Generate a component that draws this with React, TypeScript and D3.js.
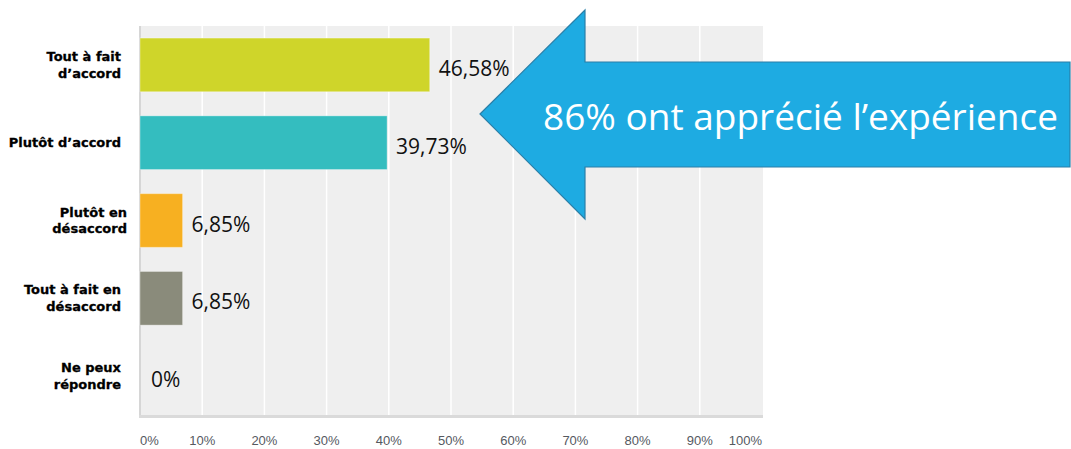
import React from "react";
import * as d3 from "d3";

const categories = [
  "Tout à fait d’accord",
  "Plutôt d’accord",
  "Plutôt en désaccord",
  "Tout à fait en désaccord",
  "Ne peux répondre",
];
const categoryLines = [
  ["Tout à fait", "d’accord"],
  ["Plutôt d’accord"],
  ["Plutôt en", "désaccord"],
  ["Tout à fait en", "désaccord"],
  ["Ne peux", "répondre"],
];
const values = [46.58, 39.73, 6.85, 6.85, 0];
const barColors = ["#cfd52a", "#34bdbf", "#f7b021", "#8a8b7b", "#999999"];
const ticks = [0, 10, 20, 30, 40, 50, 60, 70, 80, 90, 100];
const calloutText = "86% ont apprécié l’expérience";

const W = 1071;
const H = 449;
const plot = { left: 140, right: 762, top: 26, bottom: 415 };

export default function App() {
  const x = d3.scaleLinear().domain([0, 100]).range([plot.left, plot.right]);
  const y = d3
    .scaleBand<string>()
    .domain(categories)
    .range([plot.top, plot.bottom])
    .paddingInner(0.31)
    .paddingOuter(0.155);

  const fmt = (v: number) => String(v).replace(".", ",") + "%";

  // arrow geometry
  const tipX = 480, tipY = 114, headX = 585, headTop = 10, headBot = 219;
  const shaftTop = 62, shaftBot = 167, shaftRight = 1070;
  const arrow = d3.path();
  arrow.moveTo(tipX, tipY);
  arrow.lineTo(headX, headTop);
  arrow.lineTo(headX, shaftTop);
  arrow.lineTo(shaftRight, shaftTop);
  arrow.lineTo(shaftRight, shaftBot);
  arrow.lineTo(headX, shaftBot);
  arrow.lineTo(headX, headBot);
  arrow.closePath();

  return (
    <svg
      width={W}
      height={H}
      style={{ position: "absolute", left: 0, top: 0, background: "#fff" }}
    >
      <rect
        x={plot.left}
        y={plot.top}
        width={plot.right - plot.left + 1}
        height={plot.bottom - plot.top}
        fill="#efefef"
      />
      {ticks.slice(1, -1).map((t) => (
        <line
          key={t}
          x1={x(t)}
          x2={x(t)}
          y1={plot.top}
          y2={plot.bottom}
          stroke="#ffffff"
          strokeWidth={1.5}
        />
      ))}
      <line x1={plot.left} x2={plot.left} y1={plot.top} y2={plot.bottom} stroke="#d6d6d6" strokeWidth={2} />
      <rect x={plot.left - 1} y={plot.bottom} width={plot.right - plot.left + 2} height={3} fill="#dadada" />

      {categories.map((c, i) => {
        const by = y(c)!;
        const bh = y.bandwidth();
        const cy = by + bh / 2;
        return (
          <g key={c}>
            {values[i] > 0 && (
              <rect
                x={x(0)}
                y={by}
                width={x(values[i]) - x(0)}
                height={bh}
                fill={barColors[i]}
                stroke="#ffffff"
                strokeOpacity={0.35}
                strokeWidth={1}
              />
            )}
            <text
              x={x(values[i]) + (values[i] > 0 ? 9 : 11)}
              y={cy + 3}
              dominantBaseline="central"
              fontFamily="'Open Sans', sans-serif"
              fontSize={21}
              fill="#111"
            >
              {fmt(values[i])}
            </text>
            {categoryLines[i].map((ln, j) => (
              <text
                key={j}
                x={i === 2 ? 127 : 121}
                y={cy + (j - (categoryLines[i].length - 1) / 2) * 16.7}
                dominantBaseline="central"
                textAnchor="end"
                fontFamily="'DejaVu Sans', Verdana, sans-serif"
                fontWeight="bold"
                fontSize={13}
                fill="#000"
                stroke="#000"
                strokeWidth={0.3}
              >
                {ln}
              </text>
            ))}
          </g>
        );
      })}

      {ticks.map((t, i) => (
        <text
          key={t}
          x={x(t)}
          y={440}
          dominantBaseline="central"
          textAnchor={i === 0 ? "start" : i === ticks.length - 1 ? "end" : "middle"}
          fontFamily="'Liberation Sans', Arial, sans-serif"
          fontSize={13}
          fill="#55595f"
        >
          {t + "%"}
        </text>
      ))}

      <path d={arrow.toString()} fill="#1eabe2" stroke="#2a7fa8" strokeWidth={1.2} />
      <text
        x={543}
        y={116}
        dominantBaseline="central"
        fontFamily="'Open Sans', sans-serif"
        fontSize={36}
        fill="#ffffff"
        textLength={515}
        lengthAdjust="spacingAndGlyphs"
      >
        {calloutText}
      </text>
    </svg>
  );
}
